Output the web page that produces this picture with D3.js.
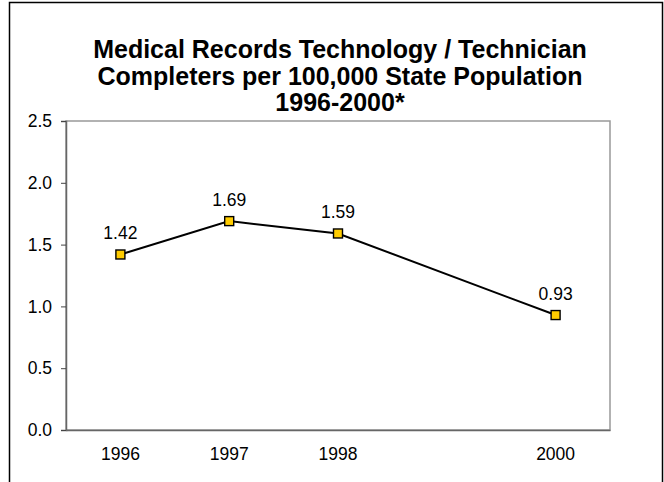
<!DOCTYPE html>
<html><head><meta charset="utf-8">
<script src="https://cdn.jsdelivr.net/npm/d3@7"></script>
<style>body{margin:0;background:#fff}svg{display:block}text{font-family:"Liberation Sans",Arial,sans-serif}</style>
</head><body><svg id="c" width="664" height="482"></svg>
<script>
const titleLines = ["Medical Records Technology / Technician","Completers per 100,000 State Population","1996-2000*"];
const years = [1996,1997,1998,1999,2000];
const dataYears = [1996,1997,1998,2000];
const values = [1.42,1.69,1.59,0.93];
const yTicks = [0,0.5,1.0,1.5,2.0,2.5];

const svg = d3.select("#c");
svg.append("rect").attr("x",9.5).attr("y",2.5).attr("width",653).attr("height",490).attr("fill","#fff").attr("stroke","#000").attr("stroke-width",1.5);

const t = svg.append("text").attr("text-anchor","middle").attr("font-weight","bold").attr("font-size",25);
titleLines.forEach((l,i)=>t.append("tspan").attr("x",340).attr("y",58+i*26.5).text(l));

const L=66,R=610,T=121,B=430;
const x = d3.scaleBand().domain(years).range([L,R]);
const y = d3.scaleLinear().domain([0,2.5]).range([B,T]);

svg.append("rect").attr("x",L).attr("y",T).attr("width",R-L).attr("height",B-T).attr("fill","none").attr("stroke","#999").attr("stroke-width",1.5);

const ya = svg.append("g").attr("transform",`translate(${L},0)`).call(d3.axisLeft(y).tickValues(yTicks).tickFormat(d3.format(".1f")).tickSize(5).tickPadding(9));
ya.select(".domain").attr("stroke","#666").attr("stroke-width",1.5);
ya.selectAll("line").attr("stroke","#444");
ya.selectAll("text").attr("font-size",17.5).attr("fill","#000").attr("font-family","Liberation Sans, Arial, sans-serif");

const xa = svg.append("g").attr("transform",`translate(0,${B})`).call(d3.axisBottom(x).tickValues(dataYears).tickSize(0).tickPadding(18));
xa.select(".domain").attr("stroke","#666").attr("stroke-width",1.5);
xa.selectAll("text").attr("font-size",17.5).attr("fill","#000").attr("font-family","Liberation Sans, Arial, sans-serif");

const pts = dataYears.map((yr,i)=>({x:x(yr)+x.bandwidth()/2,y:y(values[i]),v:values[i]}));
svg.append("path").attr("d",d3.line().x(d=>d.x).y(d=>d.y)(pts)).attr("fill","none").attr("stroke","#000").attr("stroke-width",2);
svg.selectAll(".m").data(pts).enter().append("rect").attr("x",d=>d.x-4.5).attr("y",d=>d.y-4.5).attr("width",9).attr("height",9).attr("fill","#FFCC00").attr("stroke","#000").attr("stroke-width",1.4);
svg.selectAll(".lb").data(pts).enter().append("text").attr("x",d=>d.x).attr("y",d=>d.y-15).attr("text-anchor","middle").attr("font-size",17.5).text(d=>d.v.toFixed(2));
</script></body></html>
